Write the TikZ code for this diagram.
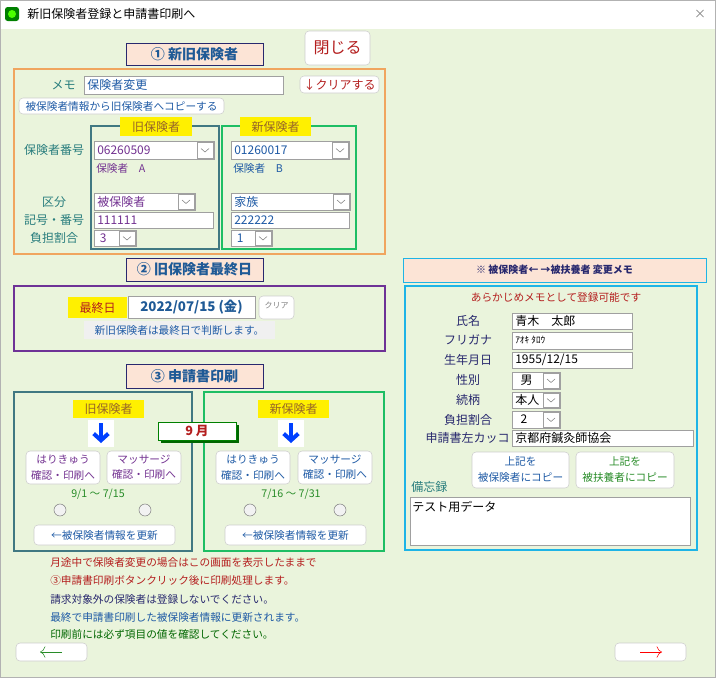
\documentclass[tikz,border=0pt]{standalone}
\usepackage{fontspec}
\setmainfont{Noto Sans CJK JP}
\usetikzlibrary{positioning,calc,arrows.meta}
\definecolor{bgg}{RGB}{234,244,220}
\definecolor{peach}{RGB}{252,228,214}
\definecolor{hdtxt}{RGB}{31,90,150}
\definecolor{navy}{RGB}{40,40,110}
\definecolor{orfr}{RGB}{240,165,95}
\definecolor{oldfr}{RGB}{65,120,130}
\definecolor{newfr}{RGB}{30,190,100}
\definecolor{purfr}{RGB}{110,50,150}
\definecolor{cyfr}{RGB}{30,180,230}
\definecolor{teal}{RGB}{40,125,125}
\definecolor{purtxt}{RGB}{115,50,145}
\definecolor{bltxt}{RGB}{30,90,165}
\definecolor{redtxt}{RGB}{180,30,30}
\definecolor{grtxt}{RGB}{40,140,40}
\definecolor{ylw}{RGB}{255,240,0}
\definecolor{brtxt}{RGB}{150,100,40}
\definecolor{btnbd}{RGB}{205,205,205}
\definecolor{fldbd}{RGB}{160,160,160}
\tikzset{
  lbl/.style={inner sep=0pt, font=\fontsize{9}{10}\selectfont},
  small/.style={inner sep=0pt, font=\fontsize{8}{9}\selectfont},
  hdr/.style={inner sep=0pt, font=\fontsize{10.5}{12}\selectfont\bfseries, text=hdtxt},
}
% text field
\newcommand\fld[6]{\draw[fldbd, fill=white] (#1,#2) rectangle (#3,#4);
  \node[lbl, anchor=west, text=#6] at ({#1+3},{(#2+#4)/2}) {#5};}
% dropdown chevron
\newcommand\chev[4]{\draw[fldbd] ({#3-17},{#2+1}) rectangle ({#3-1},{#4-1});
  \draw[gray] ({#3-13},{(#2+#4)/2-1.5}) -- ({#3-9},{(#2+#4)/2+2}) -- ({#3-5},{(#2+#4)/2-1.5});}
% button
\newcommand\btn[4]{\draw[btnbd, fill=white, rounded corners=3] (#1,#2) rectangle (#3,#4);}
\begin{document}
\begin{tikzpicture}[x=0.75pt, y=-0.75pt]
% window
\fill[bgg] (0,0) rectangle (716,678);
\fill[white] (0,0) rectangle (716,29);
\draw[gray!60] (0.5,0.5) rectangle (715.5,677.5);
\fill[green!50!black, rounded corners=2] (5,7) rectangle (19,21);
\fill[green!70!yellow] (12,14) circle (4);
\node[lbl, anchor=west] (title) at (27,14) {新旧保険者登録と申請書印刷へ};
\node[lbl, text=gray] (xbtn) at (700,14) {×};

% close
\btn{305}{31}{370}{65}
\node[inner sep=0pt, font=\fontsize{12}{14}\selectfont, text=redtxt] (close) at (337.5,48) {閉じる};

% (1) insurers
\draw[navy, fill=peach] (126,43) rectangle (263,65);
\node[hdr] (h1) at (194.5,54) {① 新旧保険者};
\draw[orfr, line width=2.2pt] (14,69) rectangle (385,254);
\node[lbl, text=teal, anchor=east] (memo) at (76,85) {メモ};
\fld{84}{76}{283}{94}{保険者変更}{bltxt}
\btn{300}{76}{379}{93}
\node[lbl, text=redtxt] (clr) at (339.5,84.5) {↓クリアする};
\btn{19}{98}{224}{114}
\node[small, text=bltxt] (cpy) at (121.5,106) {被保険者情報から旧保険者へコピーする};

\draw[oldfr, line width=2.2pt] (91,126) rectangle (219,249);
\draw[newfr, line width=2.2pt] (222,126) rectangle (356,249);
\fill[ylw] (120,117) rectangle (192,136);
\node[lbl, text=brtxt] (oldh) at (156,127) {旧保険者};
\fill[ylw] (240,117) rectangle (311,136);
\node[lbl, text=brtxt] (newh) at (275.5,127) {新保険者};

\node[lbl, text=teal] (bango) at (54,150) {保険者番号};
\fld{94}{141}{214}{159}{06260509}{purtxt}\chev{94}{141}{214}{159}
\fld{231}{141}{349}{159}{01260017}{bltxt}\chev{231}{141}{349}{159}
\node[small, text=purtxt, anchor=west] (ha) at (96,168) {保険者\quad A};
\node[small, text=bltxt, anchor=west] (hb) at (233,168) {保険者\quad B};
\node[lbl, text=teal] (kubun) at (54,202) {区分};
\fld{94}{193}{195}{210}{被保険者}{purtxt}\chev{94}{193}{195}{210}
\fld{231}{193}{350}{210}{家族}{bltxt}\chev{231}{193}{350}{210}
\node[lbl, text=teal] (kigo) at (54,220) {記号・番号};
\fld{94}{212}{213}{228}{111111}{purtxt}
\fld{231}{212}{349}{228}{222222}{bltxt}
\node[lbl, text=teal] (futan) at (54,238) {負担割合};
\fld{94}{230}{136}{246}{\ 3}{purtxt}\chev{94}{230}{136}{246}
\fld{231}{230}{272}{246}{\ 1}{bltxt}\chev{231}{230}{272}{246}

% (2) last day
\draw[navy, fill=peach] (126,258) rectangle (263,281);
\node[hdr] (h2) at (194.5,269.5) {② 旧保険者最終日};
\draw[purfr, line width=2.2pt] (14,286) rectangle (385,351);
\fill[ylw] (68,297) rectangle (127,318);
\node[lbl, text=redtxt] (last) at (97.5,307.5) {最終日};
\draw[fldbd, fill=white] (128,296) rectangle (255,318);
\node[lbl, font=\fontsize{10}{11}\selectfont\bfseries, text=hdtxt] (date) at (191.5,307) {2022/07/15 (金)};
\btn{259}{296}{294}{319}
\node[inner sep=0pt, font=\fontsize{6}{7}\selectfont, text=gray] (clr2) at (276.5,305) {クリア};
\fill[gray!12] (84,321) rectangle (275,339);
\node[small, text=bltxt] (judge) at (179.5,330) {新旧保険者は最終日で判断します。};

% (3) print
\draw[navy, fill=peach] (126,364) rectangle (263,388);
\node[hdr] (h3) at (194.5,376) {③ 申請書印刷};
\draw[oldfr, line width=2.2pt] (14,392) rectangle (192,551);
\draw[newfr, line width=2.2pt] (204,392) rectangle (384,551);
\fill[ylw] (73,400) rectangle (144,418);
\node[lbl, text=brtxt] (oldp) at (108.5,409) {旧保険者};
\fill[ylw] (258,400) rectangle (329,418);
\node[lbl, text=brtxt] (newp) at (293.5,409) {新保険者};
\foreach \ax in {101,291}{
  \fill[white] (\ax-13,420) rectangle (\ax+13,447);
  \draw[blue!75!cyan, line width=3pt, -{Straight Barb[length=5pt,width=11pt]}] (\ax,423) -- (\ax,443);
}
\fill[green!40!black] (161,425) rectangle (239,443);
\draw[green!50!black, fill=white] (158,422) rectangle (236,440);
\node[inner sep=0pt, font=\fontsize{9.5}{11}\selectfont\bfseries\rmfamily, text=redtxt] (month) at (197,431) {9\ 月};
\foreach \bx/\tx/\tc in {26/はりきゅう/purtxt, 107/マッサージ/purtxt, 216/はりきゅう/bltxt, 298/マッサージ/bltxt}{
  \btn{\bx}{451}{\bx+74}{484}
  \node[small, text=\tc, align=center, font=\fontsize{8}{11.5}\selectfont] at (\bx+37,467.5) {\tx\\確認・印刷へ};
}
\node[small, text=grtxt] (r1) at (98,494) {9/1 〜 7/15};
\node[small, text=grtxt] (r2) at (291,494) {7/16 〜 7/31};
\foreach \cx in {60,145,250,340}
  \draw[gray, fill=gray!10] (\cx,510) circle (6);
\btn{34}{525}{175}{545}
\node[small, text=bltxt] (up1) at (104.5,535) {←被保険者情報を更新};
\btn{225}{525}{366}{545}
\node[small, text=bltxt] (up2) at (295.5,535) {←被保険者情報を更新};

% notes
\node[small, text=redtxt, anchor=west] (n1) at (50,562) {月途中で保険者変更の場合はこの画面を表示したままで};
\node[small, text=redtxt, anchor=west] (n2) at (50,580) {③申請書印刷ボタンクリック後に印刷処理します。};
\node[small, text=navy, anchor=west] (n3) at (50,599) {請求対象外の保険者は登録しないでください。};
\node[small, text=bltxt, anchor=west] (n4) at (50,617) {最終で申請書印刷した被保険者情報に更新されます。};
\node[small, text=green!40!black, anchor=west] (n5) at (50,634) {印刷前には必ず項目の値を確認してください。};
\btn{16}{643}{87}{661}
\draw[grtxt, -{To[length=4pt]}] (62,652) -- (40,652);
\btn{615}{643}{686}{661}
\draw[red, -{To[length=4pt]}] (640,652) -- (662,652);

% memo panel
\draw[cyfr, fill=peach] (403,258) rectangle (706,282);
\node[small, font=\fontsize{7.5}{9}\selectfont\bfseries, text=navy] (h4) at (554.5,270) {※ 被保険者← →被扶養者 変更メモ};
\draw[cyfr, line width=2.2pt] (405,286) rectangle (697,550);
\node[small, text=redtxt] (pre) at (556,297) {あらかじめメモとして登録可能です};
\foreach \ly/\lt in {321/氏名, 340/フリガナ, 360/生年月日, 380/性別, 400/続柄, 420/負担割合}
  \node[lbl, text=navy] at (468,\ly) {\lt};
\node[lbl, text=navy, anchor=east] (left) at (510,438) {申請書左カッコ};
\fld{512}{313}{632}{329}{青木\quad 太郎}{black}
\fld{512}{332}{632}{349}{\fontsize{7}{8}\selectfont ｱｵｷ ﾀﾛｳ}{black}
\fld{512}{352}{632}{368}{1955/12/15}{black}
\fld{512}{372}{560}{389}{\ \ 男}{black}\chev{512}{372}{560}{389}
\fld{512}{392}{560}{408}{本人}{black}\chev{512}{392}{560}{408}
\fld{512}{411}{560}{428}{\ \ 2}{black}\chev{512}{411}{560}{428}
\fld{512}{430}{693}{446}{京都府鍼灸師協会}{black}
\btn{472}{452}{569}{488}
\node[small, text=bltxt, align=center, font=\fontsize{8}{12}\selectfont] (c1) at (520.5,470) {上記を\\被保険者にコピー};
\btn{576}{452}{674}{488}
\node[small, text=grtxt, align=center, font=\fontsize{8}{12}\selectfont] (c2) at (625,470) {上記を\\被扶養者にコピー};
\node[lbl, text=teal, anchor=west] (bib) at (411,487) {備忘録};
\draw[fldbd, fill=white] (410,497) rectangle (690,545);
\node[lbl, anchor=west] (test) at (412,507) {テスト用データ};
\end{tikzpicture}
\end{document}
